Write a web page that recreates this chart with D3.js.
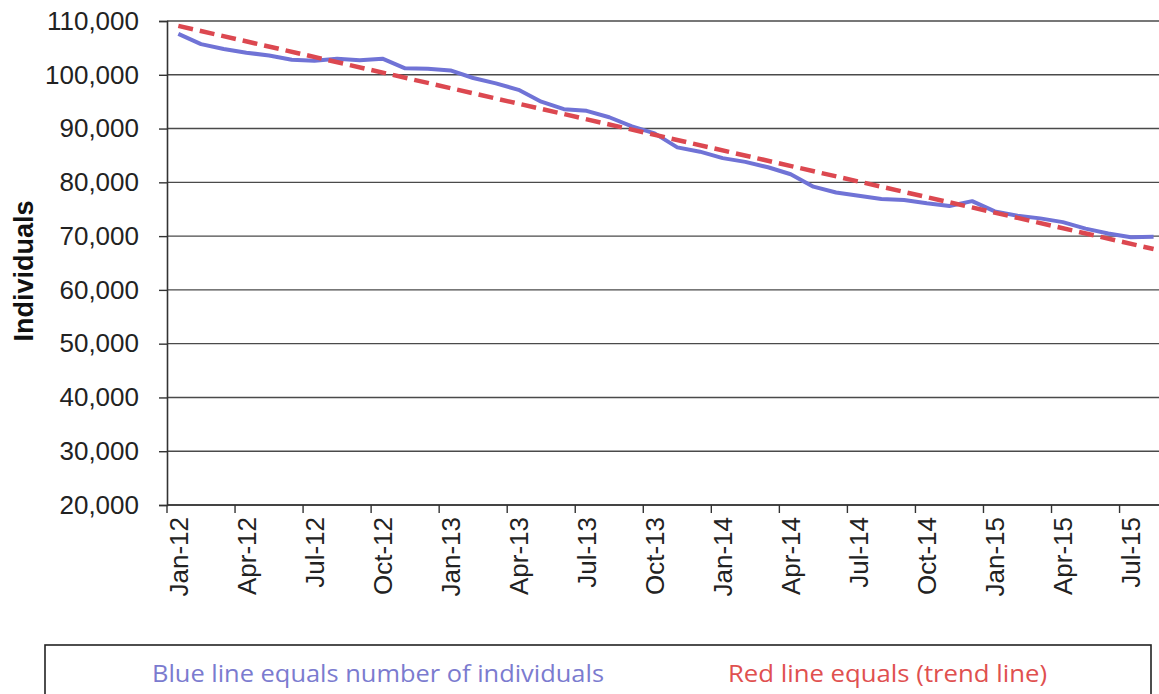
<!DOCTYPE html>
<html>
<head>
  <meta charset="UTF-8">
  <title>Individuals</title>
  <style>
    body { margin: 0; background: #fff; }
    svg { display: block; }
    text { font-family: "Liberation Sans", Arial, sans-serif; }
  </style>
</head>
<body>
<svg id="chart"></svg>
<script src="https://d3js.org/d3.v7.min.js"></script>
<script>

// months on the category axis (Jan-12 .. Aug-15)
var months = [
  "Jan-12","Feb-12","Mar-12","Apr-12","May-12","Jun-12","Jul-12","Aug-12","Sep-12","Oct-12","Nov-12","Dec-12",
  "Jan-13","Feb-13","Mar-13","Apr-13","May-13","Jun-13","Jul-13","Aug-13","Sep-13","Oct-13","Nov-13","Dec-13",
  "Jan-14","Feb-14","Mar-14","Apr-14","May-14","Jun-14","Jul-14","Aug-14","Sep-14","Oct-14","Nov-14","Dec-14",
  "Jan-15","Feb-15","Mar-15","Apr-15","May-15","Jun-15","Jul-15","Aug-15"
];

// number of individuals (blue line)
var individuals = [
  107600, 105700, 104800, 104100, 103600, 102800, 102600, 103000, 102700, 103000, 101200, 101100,
  100800, 99400, 98400, 97200, 95000, 93600, 93300, 92100, 90400, 89100, 86500, 85700,
  84500, 83800, 82800, 81500, 79200, 78100, 77500, 76900, 76700, 76100, 75600, 76500,
  74600, 73800, 73300, 72600, 71400, 70500, 69800, 69900
];

// trend line (red dashed), value at first and last month
var trendMonths = ["Jan-12", "Aug-15"];
var trendValues = [109100, 67600];

// y axis ticks
var yTicks = [20000, 30000, 40000, 50000, 60000, 70000, 80000, 90000, 100000, 110000];

let width = 1159, height = 694;

let svg = d3.select("#chart")
    .attr("width", width)
    .attr("height", height);

let x = d3.scaleBand()
    .domain(months)
    .range([167, 167 + 44 * 22.68]);

let y = d3.scaleLinear()
    .domain([20000, 110000])
    .range([505, 21]);

let fmt = d3.format(",");

// gridlines
svg.append("g")
    .selectAll("line")
    .data(yTicks)
    .enter()
    .append("line")
    .attr("x1", x.range()[0])
    .attr("x2", x.range()[1])
    .attr("y1", d => y(d))
    .attr("y2", d => y(d))
    .attr("stroke", "#4a4a4a")
    .attr("stroke-width", 1.4);

// y axis
let yAxis = svg.append("g")
    .attr("transform", "translate(" + x.range()[0] + ",0)")
    .call(d3.axisLeft(y).tickValues(yTicks).tickFormat(fmt).tickSize(8).tickPadding(20));

yAxis.select(".domain").attr("stroke", "#333").attr("stroke-width", 1.6);
yAxis.selectAll(".tick line").attr("stroke", "#333").attr("stroke-width", 1.4);
yAxis.selectAll(".tick text")
    .attr("fill", "#222")
    .style("font-size", "26px")
    .style("font-family", "'Liberation Sans', Arial, sans-serif");

// x axis: ticks every 3 months on category boundaries, labels in the middle
let tickMonths = months.filter((d, i) => i % 3 === 0);

svg.append("line")
    .attr("x1", x.range()[0])
    .attr("x2", x.range()[1])
    .attr("y1", y(20000))
    .attr("y2", y(20000))
    .attr("stroke", "#333")
    .attr("stroke-width", 1.6);

svg.append("g")
    .selectAll("line")
    .data(tickMonths)
    .enter()
    .append("line")
    .attr("x1", d => x(d))
    .attr("x2", d => x(d))
    .attr("y1", y(20000))
    .attr("y2", y(20000) + 8)
    .attr("stroke", "#333")
    .attr("stroke-width", 1.4);

svg.append("g")
    .selectAll("text")
    .data(tickMonths)
    .enter()
    .append("text")
    .attr("transform", d => "translate(" + (x(d) + x.bandwidth() / 2) + "," + (y(20000) + 12) + ") rotate(-90)")
    .attr("dy", "0.36em")
    .attr("text-anchor", "end")
    .attr("fill", "#222")
    .style("font-size", "26px")
    .text(d => d);

// y axis title
svg.append("text")
    .attr("transform", "translate(23,271) rotate(-90)")
    .attr("dy", "0.36em")
    .attr("text-anchor", "middle")
    .attr("fill", "#111")
    .style("font-size", "27px")
    .style("font-weight", "bold")
    .text("Individuals");

let cx = d => x(d) + x.bandwidth() / 2;

// blue line
let line = d3.line()
    .x((d, i) => cx(months[i]))
    .y(d => y(d));

svg.append("path")
    .datum(individuals)
    .attr("d", line)
    .attr("fill", "none")
    .attr("stroke", "#7073d6")
    .attr("stroke-width", 4)
    .attr("stroke-linejoin", "round");

// red dashed trend line
let trendLine = d3.line()
    .x((d, i) => cx(trendMonths[i]))
    .y(d => y(d));

svg.append("path")
    .datum(trendValues)
    .attr("d", trendLine)
    .attr("fill", "none")
    .attr("stroke", "#dc4850")
    .attr("stroke-width", 4.5)
    .attr("stroke-dasharray", "15,7");

// legend box
svg.append("rect")
    .attr("x", 45)
    .attr("y", 645)
    .attr("width", 1106)
    .attr("height", 60)
    .attr("fill", "none")
    .attr("stroke", "#222")
    .attr("stroke-width", 1.6);

svg.append("text")
    .attr("x", 152)
    .attr("y", 682)
    .attr("fill", "#7b7bcf")
    .attr("textLength", 452)
    .attr("lengthAdjust", "spacingAndGlyphs")
    .style("font-family", "'Open Sans', 'Noto Sans', sans-serif")
    .style("font-size", "24px")
    .text("Blue line equals number of individuals");

svg.append("text")
    .attr("x", 728)
    .attr("y", 682)
    .attr("fill", "#e0504f")
    .attr("textLength", 319)
    .attr("lengthAdjust", "spacingAndGlyphs")
    .style("font-family", "'Open Sans', 'Noto Sans', sans-serif")
    .style("font-size", "24px")
    .text("Red line equals (trend line)");

</script>
</body>
</html>
